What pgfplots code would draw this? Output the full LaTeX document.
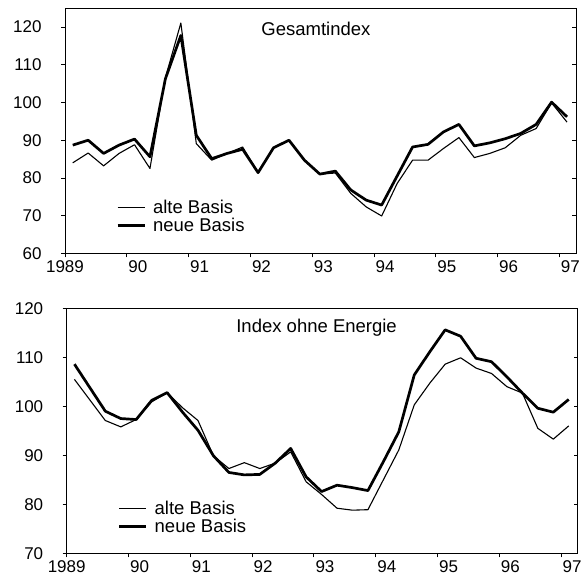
\documentclass[border=0pt]{standalone}
\usepackage{pgfplots}
\pgfplotsset{compat=1.18}
\usepackage{pgfplotstable}
\usepackage{fontspec}
\setmainfont{Liberation Sans}

\pgfplotstableread{
x       alte   neue
1989.125 84.0  88.7
1989.375 86.6  90.0
1989.625 83.2  86.5
1989.875 86.5  88.7
1990.125 88.8  90.3
1990.375 82.5  85.6
1990.625 106.6 106.3
1990.875 121.1 117.8
1991.125 89.1  91.3
1991.375 84.7  85.1
1991.625 86.5  86.5
1991.875 88.2  87.6
1992.125 81.4  81.4
1992.375 88.0  88.0
1992.625 90.0  90.0
1992.875 84.7  84.7
1993.125 81.0  81.0
1993.375 81.3  81.8
1993.625 75.9  76.8
1993.875 72.3  74.1
1994.125 69.9  72.8
1994.375 78.5  80.5
1994.625 84.7  88.2
1994.875 84.7  88.9
1995.125 87.8  92.2
1995.375 90.7  94.2
1995.625 85.4  88.5
1995.875 86.5  89.3
1996.125 88.0  90.4
1996.375 91.3  91.8
1996.625 93.1  94.2
1996.875 99.9  100.1
1997.125 94.8  96.2
}\gesamt

\pgfplotstableread{
x       alte   neue
1989.125 105.5 108.6
1989.375 101.3 103.8
1989.625 97.1  99.0
1989.875 95.8  97.5
1990.125 97.3  97.3
1990.375 100.9 101.2
1990.625 102.8 102.8
1990.875 99.7  98.8
1991.125 97.1  95.1
1991.375 89.9  89.9
1991.625 87.3  86.5
1991.875 88.5  86.0
1992.125 87.3  86.1
1992.375 88.4  88.4
1992.625 90.7  91.4
1992.875 84.6  85.6
1993.125 82.0  82.6
1993.375 79.2  83.9
1993.625 78.8  83.4
1993.875 78.9  82.8
1994.125 85.0  88.7
1994.375 91.1  94.8
1994.625 100.3 106.4
1994.875 104.7 111.1
1995.125 108.6 115.6
1995.375 109.9 114.3
1995.625 107.8 109.8
1995.875 106.7 109.1
1996.125 104.0 106.0
1996.375 102.7 102.7
1996.625 95.5  99.6
1996.875 93.3  98.8
1997.125 96.0  101.4
}\ohne

\pgfplotsset{
  panel/.style={
    scale only axis, width=511pt, height=245pt, anchor=south west,
    xmin=1989, xmax=1997.27,
    xtick={1989,...,1997}, xticklabels={{},{},{},{},{},{},{},{},{}},
    extra x ticks={1989,1990.18,1991.18,1992.18,1993.18,1994.18,1995.18,1996.18,1997.18},
    extra x tick labels={1989,90,91,92,93,94,95,96,97},
    extra x tick style={major tick length=0pt},
    xtick pos=bottom, ytick pos=left,
    tick align=outside, major tick length=4pt,
    axis line style={line width=0.9pt},
    every tick/.style={black, line width=0.8pt},
    /pgf/number format/assume math mode=true,
    tick label style={font=\fontsize{17}{17}\selectfont},
    yticklabel style={xshift=-16pt},
    xticklabel style={yshift=-4pt},
    legend style={draw=none, fill=none, font=\fontsize{18.5}{18.5}\selectfont,
      cells={anchor=west}, row sep=-1pt, column sep=5pt, inner sep=0pt},
    legend image code/.code={\draw[##1] (0pt,0pt) -- (27pt,0pt);},
    thinl/.style={black, line width=1.1pt, line join=round},
    thickl/.style={black, line width=2.7pt, line join=round},
  },
  rightticks/.style={
    scale only axis, width=511pt, height=245pt, anchor=south west,
    xmin=1989, xmax=1997.27, axis x line=none, axis y line*=right,
    yticklabels={}, tick align=inside, major tick length=4pt,
    axis line style={line width=0.9pt},
    every tick/.style={black, line width=0.8pt},
  }
}

\begin{document}
\begin{tikzpicture}
\useasboundingbox (0,0) rectangle (586pt,578pt);

\begin{axis}[panel, at={(65pt,324.7pt)},
  ymin=60, ymax=125, ytick={60,70,...,120},
  legend style={at={(rel axis cs:0.1,0.225)}, anchor=north west}]
  \addplot[thinl] table[x=x, y=alte] {\gesamt};
  \addlegendentry{alte Basis}
  \addplot[thickl] table[x=x, y=neue] {\gesamt};
  \addlegendentry{neue Basis}
  \node[font=\fontsize{18.5}{18.5}\selectfont] at (rel axis cs:0.491,0.915) {Gesamtindex};
\end{axis}
\begin{axis}[rightticks, at={(65pt,324.7pt)}, ymin=60, ymax=125, ytick={60,70,...,120}]
\end{axis}

\begin{axis}[panel, at={(66.7pt,24.7pt)},
  ymin=70, ymax=120, ytick={70,80,...,120},
  legend style={at={(rel axis cs:0.1,0.222)}, anchor=north west}]
  \addplot[thinl] table[x=x, y=alte] {\ohne};
  \addlegendentry{alte Basis}
  \addplot[thickl] table[x=x, y=neue] {\ohne};
  \addlegendentry{neue Basis}
  \node[font=\fontsize{18.5}{18.5}\selectfont] at (rel axis cs:0.489,0.921) {Index ohne Energie};
\end{axis}
\begin{axis}[rightticks, at={(66.7pt,24.7pt)}, ymin=70, ymax=120, ytick={70,80,...,120}]
\end{axis}
\end{tikzpicture}
\end{document}
